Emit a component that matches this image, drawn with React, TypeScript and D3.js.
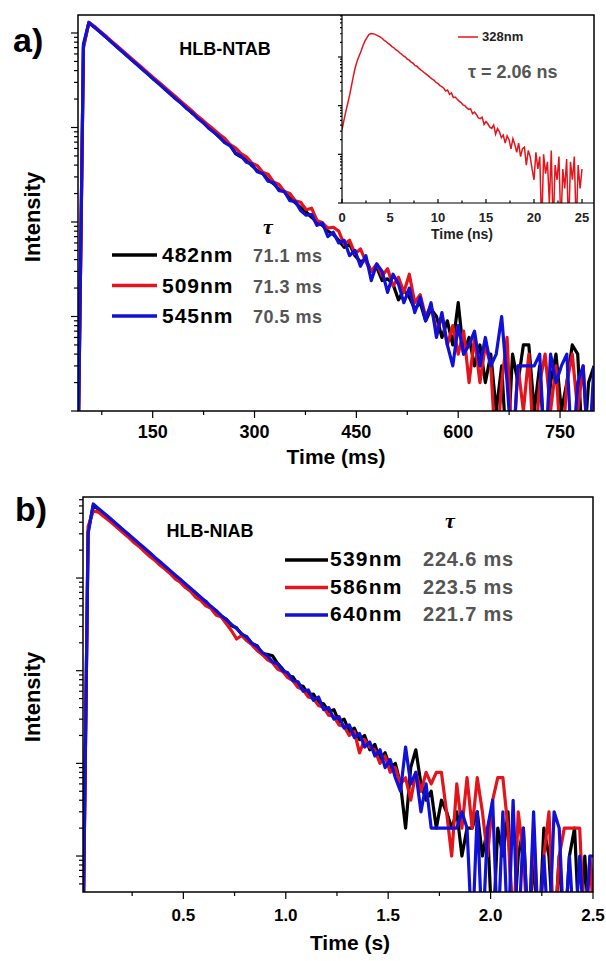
import * as d3 from "d3";

// ---- panel a: HLB-NTAB, time grid 40..800 ms every 8 ms ----
const timeA0 = 40;
const timeAStep = 8;
const a482 = [
  0, 7200, 12900, 11600, 10350, 9250, 8200, 7300, 6500, 5800, 5150, 4600,
  4080, 3650, 3230, 2900, 2570, 2290, 2040, 1810, 1620, 1420, 1290, 1140,
  1010, 905, 790, 700, 655, 530, 490, 460, 395, 350, 330, 280,
  255, 222, 208, 178, 160, 142, 128, 112, 100, 92, 80, 74,
  64, 54, 58, 44, 38, 40, 30, 33, 24, 25, 22, 15,
  19, 16, 12, 14, 9, 12, 10, 6, 9, 5, 14, 4,
  6, 3, 5, 2, 4, 1, 3, 0, 4, 2, 5, 5,
  1, 3, 0, 2, 4, 1, 2, 5, 4, 0, 2, 3,
];
const a509 = [
  0, 6900, 13000, 11800, 10500, 9400, 8350, 7450, 6650, 5920, 5280, 4700,
  4200, 3730, 3330, 2970, 2650, 2360, 2110, 1880, 1680, 1500, 1320, 1190,
  1060, 950, 850, 770, 660, 610, 530, 490, 420, 395, 335, 320,
  265, 250, 210, 200, 168, 162, 135, 140, 104, 98, 86, 88,
  80, 58, 64, 46, 52, 38, 30, 36, 27, 32, 21, 26,
  18, 28, 14, 17, 10, 13, 7, 10, 5, 8, 4, 7,
  2, 6, 2, 5, 3, 0, 2, 6, 0, 3, 1, 4,
  0, 2, 4, 1, 3, 0, 2, 4, 1, 3, 0, 2,
];
const a545 = [
  0, 7600, 12800, 11500, 10300, 9200, 8150, 7250, 6450, 5750, 5100, 4550,
  4050, 3600, 3200, 2860, 2540, 2260, 2000, 1800, 1580, 1440, 1250, 1130,
  990, 890, 800, 690, 640, 540, 500, 430, 410, 340, 325, 270,
  262, 215, 210, 168, 165, 132, 118, 120, 92, 98, 70, 78,
  60, 64, 44, 50, 34, 44, 24, 36, 30, 18, 28, 22,
  14, 20, 11, 16, 9, 14, 6, 11, 5, 3, 8, 4,
  5, 7, 3, 6, 3, 4, 10, 2, 0, 3, 3, 3,
  3, 4, 0, 4, 2, 3, 4, 0, 2, 3, 0, 3,
];
const legendA = [
  { name: "482nm", tau: "71.1 ms", color: "#000000", data: a482 },
  { name: "509nm", tau: "71.3 ms", color: "#e3141b", data: a509 },
  { name: "545nm", tau: "70.5 ms", color: "#1010d8", data: a545 },
];
const ticksA = [150, 300, 450, 600, 750];
const minorA = [75, 225, 375, 525, 675];

// ---- inset: 328nm, time grid 0..25 ns every 0.2 ns ----
const timeI0 = 0;
const timeIStep = 0.2;
const i328 = [
  32, 50, 76, 112, 166, 263, 417, 631, 851, 1072,
  1349, 1738, 2138, 2512, 2884, 3020, 3000, 2950, 2820, 2690,
  2570, 2400, 2200, 2080, 1900, 1790, 1640, 1550, 1410, 1340,
  1220, 1150, 1050, 1000, 905, 860, 780, 745, 670, 645,
  590, 545, 510, 470, 440, 410, 378, 352, 330, 300,
  285, 258, 246, 228, 200, 210, 170, 182, 146, 150,
  136, 124, 116, 104, 100, 90, 84, 86, 68, 74,
  66, 56, 54, 58, 41, 47, 42, 36, 34, 40,
  26, 34, 29, 22, 25, 17, 24, 20, 13, 21,
  16, 11, 17, 9, 13, 14, 6, 12, 9, 5,
  3, 11, 5, 9, 0, 10, 4, 7, 1, 12,
  0, 6, 3, 9, 0, 5, 2, 8, 0, 7,
  3, 9, 0, 6, 2, 5,
];
const ticksI = [0, 5, 10, 15, 20, 25];
const minorI = [2.5, 7.5, 12.5, 17.5, 22.5];

// ---- panel b: HLB-NIAB, time grid 0.01..2.51 s every 0.025 s ----
const timeB0 = 0.01;
const timeBStep = 0.025;
const b539 = [
  0, 3200, 6050, 5550, 4980, 4480, 4010, 3600, 3210, 2880, 2570,
  2310, 2060, 1850, 1640, 1480, 1320, 1180, 1060, 950, 860,
  760, 690, 600, 560, 480, 445, 385, 360, 305, 290,
  245, 232, 195, 186, 152, 150, 145, 120, 104, 88,
  86, 70, 68, 55, 56, 45, 44, 36, 38, 28,
  30, 22, 24, 18, 20, 14, 16, 11, 13, 9,
  10, 6, 2, 9, 14, 6, 4, 5, 2, 4,
  3, 2, 3, 1, 2, 2, 3, 1, 2, 0,
  2, 1, 3, 0, 1, 2, 0, 1, 0, 2,
  1, 0, 1, 0, 1, 2, 0, 1, 0, 1,
];
const b586 = [
  0, 3600, 5300, 5150, 4650, 4200, 3780, 3370, 3020, 2720, 2400,
  2180, 1930, 1720, 1560, 1380, 1250, 1120, 980, 900, 790,
  720, 620, 575, 500, 470, 400, 380, 320, 270, 220,
  240, 210, 190, 165, 150, 132, 122, 104, 98, 84,
  78, 66, 62, 52, 50, 42, 40, 33, 32, 26,
  25, 20, 22, 13, 18, 15, 14, 10, 12, 8,
  9, 6, 7, 4, 8, 5, 8, 6, 8, 8,
  3, 1, 6, 2, 7, 2, 7, 3, 1, 4,
  7, 7, 2, 0, 3, 1, 0, 2, 0, 1,
  3, 0, 1, 2, 2, 2, 2, 0, 1, 0,
];
const b640 = [
  0, 3000, 6300, 5650, 5080, 4550, 4080, 3650, 3270, 2930, 2620,
  2350, 2110, 1890, 1680, 1510, 1350, 1210, 1080, 970, 865,
  775, 695, 620, 555, 495, 445, 395, 355, 315, 285,
  250, 228, 198, 182, 158, 145, 125, 118, 100, 95,
  78, 76, 60, 62, 48, 52, 38, 40, 30, 32,
  24, 26, 19, 21, 15, 17, 12, 14, 9, 11,
  7, 5, 15, 6, 8, 3, 6, 2, 2, 2,
  2, 2, 2, 3, 2, 0, 3, 0, 2, 4,
  0, 3, 0, 4, 0, 2, 0, 3, 0, 1,
  0, 3, 2, 0, 1, 0, 1, 0, 1, 1,
];
const legendB = [
  { name: "539nm", tau: "224.6 ms", color: "#000000", data: b539 },
  { name: "586nm", tau: "223.5 ms", color: "#e3141b", data: b586 },
  { name: "640nm", tau: "221.7 ms", color: "#1010d8", data: b640 },
];
const ticksB = [0.5, 1.0, 1.5, 2.0, 2.5];
const minorB = [0.25, 0.75, 1.25, 1.75, 2.25];

const FONT = "'Liberation Sans', Arial, sans-serif";

function isMajor(v: number) {
  const l = Math.log10(v);
  return Math.abs(l - Math.round(l)) < 1e-6;
}

function LogYAxis({ y, x0, major = 7, minor = 4, dir = -1 }: any) {
  const ticks: number[] = y.ticks();
  return (
    <g stroke="#000" strokeWidth={1.2}>
      {ticks.map((v, i) => {
        const len = isMajor(v) ? major : minor;
        return <line key={i} x1={x0} x2={x0 + dir * len} y1={y(v)} y2={y(v)} />;
      })}
    </g>
  );
}

function XTicks({ x, y0, majors, minors, major = 7, minor = 4, dir = 1 }: any) {
  return (
    <g stroke="#000" strokeWidth={1.2}>
      {majors.map((v: number, i: number) => (
        <line key={"M" + i} x1={x(v)} x2={x(v)} y1={y0} y2={y0 + dir * major} />
      ))}
      {minors.map((v: number, i: number) => (
        <line key={"m" + i} x1={x(v)} x2={x(v)} y1={y0} y2={y0 + dir * minor} />
      ))}
    </g>
  );
}

export default function App() {
  // panel a
  const xA = d3.scaleLinear([40, 800], [78, 594]);
  const yA = d3.scaleLog([1, 15500], [411, 15]);
  const lineA = d3.line<number>()
    .x((_, i) => xA(timeA0 + i * timeAStep))
    .y((v) => yA(Math.max(v, 0.3)));

  // inset
  const xI = d3.scaleLinear([0, 26.25], [342, 594]);
  const yI = d3.scaleLog([1, 7290], [203, 15]);
  const lineI = d3.line<number>()
    .x((_, i) => xI(timeI0 + i * timeIStep))
    .y((v) => yI(Math.max(v, 0.3)));

  // panel b
  const xB = d3.scaleLinear([0.01, 2.5], [83, 593]);
  const yB = d3.scaleLog([0.409, 7490], [892, 497]);
  const lineB = d3.line<number>()
    .x((_, i) => xB(timeB0 + i * timeBStep))
    .y((v) => yB(Math.max(v, 0.12)));

  return (
    <svg
      width={606}
      height={961}
      style={{ position: "absolute", left: 0, top: 0, background: "#fff" }}
      fontFamily={FONT}
    >
      <defs>
        <clipPath id="clipA"><rect x={78} y={15} width={516} height={396} /></clipPath>
        <clipPath id="clipI"><rect x={342} y={15} width={252} height={188} /></clipPath>
        <clipPath id="clipB"><rect x={83} y={497} width={510} height={395} /></clipPath>
      </defs>

      {/* ---------- panel a ---------- */}
      <text x={13} y={52} fontSize={34} fontWeight="bold">a)</text>
      <g clipPath="url(#clipA)" fill="none" strokeWidth={3.2} strokeLinejoin="round">
        {legendA.map((s) => (
          <path key={s.name} d={lineA(s.data) ?? ""} stroke={s.color} />
        ))}
      </g>
      <text x={225} y={55} fontSize={18} fontWeight="bold" textAnchor="middle">HLB-NTAB</text>
      <text x={268} y={234} fontSize={22} fontWeight="bold" fontStyle="italic"
        fontFamily="'Liberation Serif', 'DejaVu Serif', serif" textAnchor="middle">τ</text>
      {legendA.map((s, i) => {
        const ly = 255 + i * 30.5;
        return (
          <g key={s.name}>
            <line x1={112} x2={157} y1={ly} y2={ly} stroke={s.color} strokeWidth={3.5} />
            <text x={162} y={ly + 7} fontSize={21} fontWeight="bold" letterSpacing={1}>{s.name}</text>
            <text x={253} y={ly + 7} fontSize={18} fontWeight="bold" fill="#555" letterSpacing={0.5}>{s.tau}</text>
          </g>
        );
      })}

      {/* inset */}
      <rect x={342} y={15} width={252} height={188} fill="#fff" />
      <path d={lineI(i328) ?? ""} clipPath="url(#clipI)" fill="none" stroke="#e3141b" strokeWidth={1.5} />
      <line x1={342} x2={342} y1={15} y2={203} stroke="#000" strokeWidth={1.2} />
      <line x1={342} x2={594} y1={203} y2={203} stroke="#000" strokeWidth={1.2} />
      <LogYAxis y={yI} x0={342} major={4} minor={2} dir={-1} />
      <XTicks x={xI} y0={203} majors={ticksI} minors={minorI} major={4} minor={2.5} dir={-1} />
      {ticksI.map((v) => (
        <text key={v} x={xI(v)} y={222} fontSize={13} fontWeight="bold" textAnchor="middle" fill="#222">{v}</text>
      ))}
      <text x={462} y={239} fontSize={14} fontWeight="bold" textAnchor="middle" fill="#222">Time (ns)</text>
      <line x1={458} x2={478} y1={37} y2={37} stroke="#e3141b" strokeWidth={1.5} />
      <text x={482} y={41} fontSize={13} fontWeight="bold" fill="#222">328nm</text>
      <text x={468} y={78} fontSize={18} fontWeight="bold" fill="#555">τ = 2.06 ns</text>

      {/* frame a */}
      <rect x={78} y={15} width={516} height={396} fill="none" stroke="#000" strokeWidth={1.5} />
      <LogYAxis y={yA} x0={78} />
      <XTicks x={xA} y0={411} majors={ticksA} minors={minorA} />
      {ticksA.map((v) => (
        <text key={v} x={xA(v)} y={438} fontSize={18} fontWeight="bold" textAnchor="middle">{v}</text>
      ))}
      <text x={336} y={464} fontSize={21} fontWeight="bold" textAnchor="middle">Time (ms)</text>
      <text transform="translate(40,217) rotate(-90)" fontSize={22} fontWeight="bold" textAnchor="middle">Intensity</text>

      {/* ---------- panel b ---------- */}
      <text x={15} y={521} fontSize={34} fontWeight="bold">b)</text>
      <g clipPath="url(#clipB)" fill="none" strokeWidth={3.2} strokeLinejoin="round">
        {legendB.map((s) => (
          <path key={s.name} d={lineB(s.data) ?? ""} stroke={s.color} />
        ))}
      </g>
      <text x={210} y={537} fontSize={18} fontWeight="bold" textAnchor="middle">HLB-NIAB</text>
      <text x={450} y={528} fontSize={22} fontWeight="bold" fontStyle="italic"
        fontFamily="'Liberation Serif', 'DejaVu Serif', serif" textAnchor="middle">τ</text>
      {legendB.map((s, i) => {
        const ly = 560 + i * 27.5;
        return (
          <g key={s.name}>
            <line x1={285} x2={328} y1={ly} y2={ly} stroke={s.color} strokeWidth={3.5} />
            <text x={330} y={ly + 6} fontSize={21} fontWeight="bold" letterSpacing={1.2}>{s.name}</text>
            <text x={423} y={ly + 6} fontSize={20} fontWeight="bold" fill="#555" letterSpacing={0.8}>{s.tau}</text>
          </g>
        );
      })}
      <rect x={83} y={497} width={510} height={395} fill="none" stroke="#000" strokeWidth={1.5} />
      <LogYAxis y={yB} x0={83} />
      <XTicks x={xB} y0={892} majors={ticksB} minors={minorB} />
      {ticksB.map((v) => (
        <text key={v} x={xB(v)} y={921} fontSize={17} fontWeight="bold" textAnchor="middle">{v.toFixed(1)}</text>
      ))}
      <text x={350} y={950} fontSize={21} fontWeight="bold" textAnchor="middle">Time (s)</text>
      <text transform="translate(40,697) rotate(-90)" fontSize={22} fontWeight="bold" textAnchor="middle">Intensity</text>
    </svg>
  );
}
